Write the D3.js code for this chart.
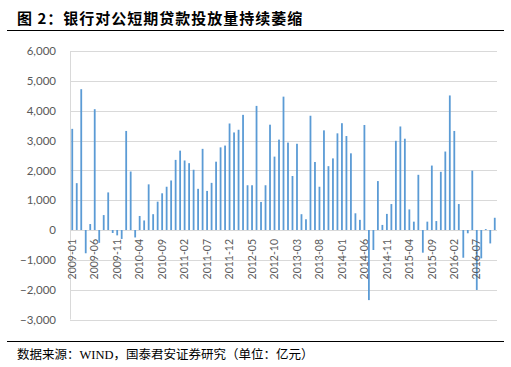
<!DOCTYPE html>
<html>
<head>
<meta charset="utf-8">
<script src="https://cdn.jsdelivr.net/npm/d3@7/dist/d3.min.js"></script>
<style>
  html, body { margin: 0; padding: 0; background: #fff; }
  svg { display: block; }
</style>
</head>
<body>
<svg id="chart" width="511" height="367"></svg>
<script>
// ---- data (亿元) ----
const startYear = 2009, startMonth = 1;
const values = [
  3390, 1570, 4720, -780, 200, 4050, -430, 500, 1260, -100, -180, -300,
  3320, 1960, -250, 470, 320, 1530, 530, 950, 1230, 1450, 1660, 2350,
  2660, 2330, 2240, 2020, 1380, 2720, 1310, 1580, 2290, 2770, 2830, 3570,
  3270, 3360, 3860, 1500, 1500, 4160, 940, 1500, 3530, 2460, 3030, 4470,
  2930, 1810, 2890, 530, 360, 3830, 2280, 1450, 3340, 2140, 2400, 3240,
  3580, 3150, 2570, 560, 340, 3520, -2350, -670, 1640, 170, 540, 870,
  2990, 3470, 3060, 690, 280, 1850, -760, 280, 2160, 300, 1950, 2630,
  4510, 3320, 870, -930, -110, 1990, -2010, -950, 30, -450, 410
];
const yTicks = [-3000, -2000, -1000, 0, 1000, 2000, 3000, 4000, 5000, 6000];
const titleText = "图 2：银行对公短期贷款投放量持续萎缩";
const sourceText = "数据来源：WIND，国泰君安证券研究（单位：亿元）";

const categories = values.map((v, i) => {
  const m = startMonth - 1 + i;
  const y = startYear + Math.floor(m / 12);
  const mm = (m % 12) + 1;
  return y + "-" + String(mm).padStart(2, "0");
});
const tickLabels = categories.filter((c, i) => i % 5 === 0);

const svg = d3.select("#chart");

// title
svg.append("text")
  .attr("x", 17).attr("y", 24)
  .attr("font-family", "'Noto Sans CJK SC', sans-serif")
  .attr("font-weight", 700)
  .attr("font-size", 15)
  .attr("letter-spacing", 1)
  .attr("fill", "#000")
  .text(titleText);

svg.append("line").attr("x1", 7).attr("x2", 504).attr("y1", 30.5).attr("y2", 30.5)
  .attr("stroke", "#000").attr("stroke-width", 1);
svg.append("line").attr("x1", 7).attr("x2", 504).attr("y1", 341.5).attr("y2", 341.5)
  .attr("stroke", "#000").attr("stroke-width", 1);

svg.append("text")
  .attr("x", 17).attr("y", 358.5)
  .attr("font-family", "'Liberation Serif', 'Noto Sans CJK SC', serif")
  .attr("font-size", 12.5)
  .attr("fill", "#000")
  .text(sourceText);

// scales
const x = d3.scaleBand().domain(categories).range([70, 497]).paddingInner(0.6).paddingOuter(0.3);
const y = d3.scaleLinear().domain([-3000, 6000]).range([319.5, 51]);

// gridlines
svg.append("g").selectAll("line").data(yTicks).join("line")
  .attr("x1", 70).attr("x2", 497)
  .attr("y1", d => Math.round(y(d)) + 0.5).attr("y2", d => Math.round(y(d)) + 0.5)
  .attr("stroke", "#d9d9d9").attr("stroke-width", 1);
svg.append("line").attr("x1", 70.5).attr("x2", 70.5).attr("y1", y(6000)).attr("y2", y(-3000))
  .attr("stroke", "#d9d9d9").attr("stroke-width", 1);

// y axis labels
const yAxis = d3.axisLeft(y).tickValues(yTicks).tickSize(0).tickPadding(0)
  .tickFormat(d3.format(","));
const gy = svg.append("g").attr("transform", "translate(56,0)").call(yAxis);
gy.select(".domain").remove();
gy.selectAll("text")
  .attr("font-family", "Lato, 'Open Sans', sans-serif")
  .attr("font-size", 11.5)
  .attr("fill", "#595959");

// bars
svg.append("g").selectAll("rect").data(values).join("rect")
  .attr("x", (d, i) => x(categories[i]))
  .attr("width", x.bandwidth())
  .attr("y", d => y(Math.max(0, d)))
  .attr("height", d => Math.abs(y(d) - y(0)))
  .attr("fill", "#5b9bd5");

// x axis labels
const xAxis = d3.axisBottom(x).tickValues(tickLabels).tickSize(0).tickPadding(0);
const gx = svg.append("g").attr("transform", `translate(0,${y(0)})`).call(xAxis);
gx.select(".domain").remove();
gx.selectAll("text")
  .attr("font-family", "Lato, 'Open Sans', sans-serif")
  .attr("font-size", 10.5)
  .attr("fill", "#595959")
  .attr("text-anchor", "end")
  .attr("dy", "0.35em")
  .attr("transform", "translate(0,9) rotate(-90)")
  .attr("x", 0).attr("y", 0);
</script>
</body>
</html>
